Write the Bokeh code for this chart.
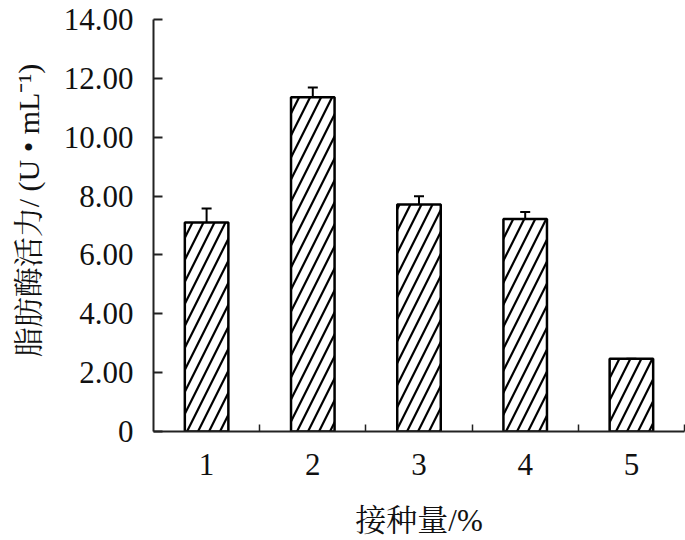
from bokeh.plotting import figure
from bokeh.models import ColumnDataSource, FixedTicker, Whisker, TeeHead
from bokeh.embed import file_html
from bokeh.resources import INLINE

# data
categories = [1, 2, 3, 4, 5]
x_tick_labels = ["1", "2", "3", "4", "5"]
activity = [7.10, 11.36, 7.71, 7.22, 2.47]
errors = [0.48, 0.33, 0.28, 0.24, 0.0]
y_ticks = [0, 2, 4, 6, 8, 10, 12, 14]
y_tick_labels = ["0", "2.00", "4.00", "6.00", "8.00", "10.00", "12.00", "14.00"]
x_title = "接种量/%"
y_title = "脂肪酶活力/ (U • mL⁻¹)"

FONT = "'Liberation Serif', 'Noto Serif CJK SC', 'Noto Sans CJK SC', serif"

src = ColumnDataSource(dict(
    x=categories,
    top=activity,
    upper=[a + e for a, e in zip(activity, errors)],
    lower=[a - e for a, e in zip(activity, errors)],
))

p = figure(width=685, height=540, output_backend="svg", toolbar_location=None,
           x_range=(0.5, 5.5), y_range=(0, 14))
p.min_border_left = 153
p.min_border_right = 1
p.min_border_top = 19
p.min_border_bottom = 108
p.outline_line_color = None
p.grid.visible = False
p.background_fill_color = "white"
p.border_fill_color = "white"

p.vbar(x="x", top="top", width=0.41, source=src, fill_color="white",
       line_color="black", line_width=2.5,
       hatch_pattern="/", hatch_color="black", hatch_weight=2.2, hatch_scale=22)

wh = Whisker(source=src, base="x", upper="upper", lower="lower",
             line_color="black", line_width=2,
             upper_head=TeeHead(size=10, line_color="black", line_width=2),
             lower_head=None)
p.add_layout(wh)

# x axis
xa = p.xaxis[0]
xa.ticker = FixedTicker(ticks=categories, minor_ticks=[1.5, 2.5, 3.5, 4.5, 5.5])
xa.major_label_overrides = {c: l for c, l in zip(categories, x_tick_labels)}
xa.major_tick_in = 0
xa.major_tick_out = 0
xa.minor_tick_in = 7
xa.minor_tick_out = 0
xa.minor_tick_line_color = "#222222"
xa.minor_tick_line_width = 1.5
xa.axis_line_width = 2
xa.axis_line_color = "#222222"
xa.major_label_text_font = FONT
xa.major_label_text_font_size = "31px"
xa.major_label_text_color = "#111111"
xa.major_label_standoff = 22
xa.axis_label = x_title
xa.axis_label_text_font = FONT
xa.axis_label_text_font_size = "31px"
xa.axis_label_text_font_style = "normal"
xa.axis_label_text_color = "#111111"
xa.axis_label_standoff = 25

# y axis
ya = p.yaxis[0]
ya.ticker = FixedTicker(ticks=y_ticks)
ya.major_label_overrides = {t: l for t, l in zip(y_ticks, y_tick_labels)}
ya.major_tick_in = 9
ya.major_tick_out = 0
ya.major_tick_line_width = 2
ya.major_tick_line_color = "#222222"
ya.minor_tick_line_color = None
ya.axis_line_width = 2
ya.axis_line_color = "#222222"
ya.major_label_text_font = FONT
ya.major_label_text_font_size = "31px"
ya.major_label_text_color = "#111111"
ya.major_label_standoff = 20
# a leading ideographic space nudges the rotated title up along the axis
ya.axis_label = "\u3000" + y_title
ya.axis_label_text_font = FONT
ya.axis_label_text_font_size = "30px"
ya.axis_label_text_font_style = "normal"
ya.axis_label_text_color = "#111111"
ya.axis_label_standoff = 16

open("out.html", "w").write(file_html(p, INLINE))
